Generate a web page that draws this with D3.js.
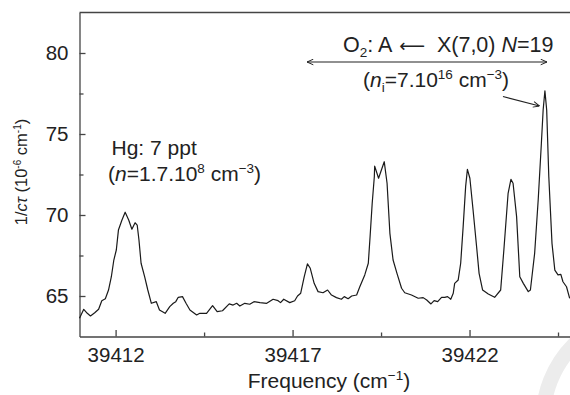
<!DOCTYPE html>
<html lang="en">
<head>
    <meta charset="UTF-8">
    <title>O2 and Hg cavity ring-down spectrum</title>
    <script src="https://d3js.org/d3.v7.min.js"></script>
    <style>
        body { margin: 0; background: white; }
        svg text { font-family: "Liberation Sans", Arial, Helvetica, sans-serif; fill: #222; }
        .axis path, .axis line { stroke: #444; stroke-width: 1.3px; }
    </style>
</head>
<body>
<svg width="570" height="395"></svg>
<script>
    // spectrum: frequency (cm-1) and 1/c tau (1e-6 cm-1)
    var freq = [39410.98, 39411.10, 39411.20, 39411.29, 39411.41, 39411.52, 39411.61, 39411.71, 39411.80, 39411.88,
        39411.95, 39412.02, 39412.08, 39412.18, 39412.27, 39412.37, 39412.46, 39412.55, 39412.61, 39412.66,
        39412.72, 39412.82, 39412.91, 39413.01, 39413.15, 39413.24, 39413.40, 39413.53, 39413.63, 39413.70,
        39413.77, 39413.89, 39413.99, 39414.10, 39414.29, 39414.38, 39414.57, 39414.74, 39414.87, 39415.02,
        39415.21, 39415.32, 39415.42, 39415.51, 39415.65, 39415.79, 39415.91, 39416.08, 39416.27, 39416.45,
        39416.59, 39416.66, 39416.75, 39416.92, 39417.06, 39417.14, 39417.23, 39417.33, 39417.42, 39417.50,
        39417.61, 39417.72, 39417.86, 39417.99, 39418.10, 39418.24, 39418.38, 39418.46, 39418.57, 39418.67,
        39418.81, 39418.90, 39419.04, 39419.14, 39419.19, 39419.25, 39419.31, 39419.32, 39419.43, 39419.59,
        39419.67, 39419.75, 39419.84, 39419.95, 39420.08, 39420.17, 39420.36, 39420.55, 39420.69, 39420.79,
        39420.91, 39421.00, 39421.10, 39421.21, 39421.30, 39421.38, 39421.47, 39421.54, 39421.58, 39421.68,
        39421.75, 39421.82, 39421.89, 39421.94, 39422.01, 39422.10, 39422.20, 39422.27, 39422.37, 39422.53,
        39422.71, 39422.88, 39422.97, 39423.09, 39423.17, 39423.23, 39423.33, 39423.42, 39423.52, 39423.66,
        39423.72, 39423.84, 39423.94, 39424.03, 39424.08, 39424.13, 39424.18, 39424.24, 39424.33, 39424.41,
        39424.50, 39424.58, 39424.64, 39424.74, 39424.83];
    var signal = [63.62, 64.18, 63.93, 63.77, 63.97, 64.18, 64.71, 64.83, 65.37, 66.19,
        67.22, 67.84, 69.07, 69.69, 70.17, 69.69, 69.12, 69.52, 69.38, 68.46,
        67.02, 66.19, 65.37, 64.55, 64.65, 64.14, 63.93, 64.34, 64.55, 64.65,
        64.92, 64.96, 64.55, 64.14, 63.83, 63.93, 63.93, 64.40, 64.03, 64.09,
        64.51, 64.44, 64.55, 64.38, 64.55, 64.49, 64.65, 64.59, 64.55, 64.80,
        64.71, 64.59, 64.80, 64.59, 64.71, 65.00, 65.17, 66.19, 66.98, 66.71,
        65.78, 65.27, 65.20, 65.37, 65.06, 64.90, 64.80, 64.96, 64.83, 65.00,
        65.06, 65.57, 66.30, 67.02, 68.66, 70.72, 72.36, 73.02, 72.27, 73.29,
        71.96, 68.87, 67.22, 66.40, 65.48, 65.20, 65.06, 64.86, 64.90, 64.75,
        64.51, 64.71, 64.65, 64.92, 64.92, 64.96, 64.80, 65.17, 65.78, 65.99,
        67.02, 69.28, 71.75, 72.82, 72.27, 70.31, 68.04, 66.40, 65.37, 65.12,
        64.92, 65.37, 67.84, 71.34, 72.20, 71.96, 69.90, 66.19, 65.78, 65.27,
        65.37, 67.64, 70.93, 74.43, 76.48, 77.67, 76.48, 72.36, 68.25, 66.60,
        66.30, 66.34, 65.88, 65.57, 64.86];

    var xTicks = [39412, 39417, 39422];
    var xMinor = [39414.5, 39419.5, 39424.5];
    var yTicks = [65, 70, 75, 80];
    var yMinor = [67.5, 72.5, 77.5];

    var svg = d3.select("svg");
    var plotLeft = 79.5, plotRight = 575, plotTop = 12.5, plotBottom = 336.5;

    var x = d3.scaleLinear().domain([39410.98, 39424.98]).range([plotLeft, plotRight]);
    var y = d3.scaleLinear().domain([62.5, 82.5]).range([plotBottom, plotTop]);

    // faint watermark ring in the corner
    svg.append("circle")
        .attr("cx", 650).attr("cy", 420).attr("r", 107)
        .attr("fill", "none").attr("stroke", "#ececec").attr("stroke-width", 15);

    // top frame
    svg.append("line")
        .attr("x1", plotLeft).attr("x2", plotRight).attr("y1", plotTop).attr("y2", plotTop)
        .attr("stroke", "#444").attr("stroke-width", 1.3);

    var xAxis = svg.append("g").attr("class", "axis")
        .attr("transform", "translate(0," + plotBottom + ")")
        .call(d3.axisBottom(x).tickValues(xTicks).tickSize(-6.5).tickSizeOuter(0).tickFormat(d3.format("d")));
    xAxis.selectAll("text").attr("y", 10.5).attr("font-size", "20.5px");
    svg.append("g").attr("class", "axis")
        .attr("transform", "translate(0," + plotBottom + ")")
        .call(d3.axisBottom(x).tickValues(xMinor).tickSize(-4).tickSizeOuter(0).tickFormat(""))
        .select(".domain").remove();

    var yAxis = svg.append("g").attr("class", "axis")
        .attr("transform", "translate(" + plotLeft + ",0)")
        .call(d3.axisLeft(y).tickValues(yTicks).tickSize(-6).tickSizeOuter(0));
    yAxis.selectAll("text").attr("x", -11).attr("font-size", "20.5px");
    svg.append("g").attr("class", "axis")
        .attr("transform", "translate(" + plotLeft + ",0)")
        .call(d3.axisLeft(y).tickValues(yMinor).tickSize(-4).tickSizeOuter(0).tickFormat(""))
        .select(".domain").remove();
    svg.selectAll(".axis text").attr("fill", "#222").attr("font-family", "Liberation Sans, Arial, sans-serif");

    var line = d3.line()
        .x(function(d) { return x(d[0]); })
        .y(function(d) { return y(d[1]); });

    svg.append("path")
        .datum(d3.zip(freq, signal))
        .attr("fill", "none")
        .attr("stroke", "#1a1a1a")
        .attr("stroke-width", 1.2)
        .attr("stroke-linejoin", "round")
        .attr("d", line);

    // axis titles
    var xt = svg.append("text").attr("x", 329).attr("y", 388)
        .attr("text-anchor", "middle").attr("font-size", "21px");
    xt.append("tspan").text("Frequency (cm");
    xt.append("tspan").attr("font-size", "13.5px").attr("dy", -8).text("\u22121");
    xt.append("tspan").attr("dy", 8).text(")");

    var yt = svg.append("text").attr("transform", "translate(27,172) rotate(-90)")
        .attr("text-anchor", "middle").attr("font-size", "16.5px");
    yt.append("tspan").text("1/");
    yt.append("tspan").attr("font-style", "italic").text("c\u03c4");
    yt.append("tspan").text(" (10");
    yt.append("tspan").attr("font-size", "10px").attr("dy", -6).text("-6");
    yt.append("tspan").attr("dy", 6).text(" cm");
    yt.append("tspan").attr("font-size", "10px").attr("dy", -6).text("-1");
    yt.append("tspan").attr("dy", 6).text(")");

    // Hg annotation
    svg.append("text").attr("x", 111.5).attr("y", 155).attr("font-size", "21px").text("Hg: 7 ppt");
    var hg = svg.append("text").attr("x", 108).attr("y", 181).attr("font-size", "21px");
    hg.append("tspan").text("(");
    hg.append("tspan").attr("font-style", "italic").text("n");
    hg.append("tspan").text("=1.7.10");
    hg.append("tspan").attr("font-size", "13.5px").attr("dy", -8).text("8");
    hg.append("tspan").attr("dy", 8).text(" cm");
    hg.append("tspan").attr("font-size", "13.5px").attr("dy", -8).text("\u22123");
    hg.append("tspan").attr("dy", 8).text(")");

    // O2 band annotation
    var o2 = svg.append("text").attr("x", 343).attr("y", 52).attr("font-size", "21.5px");
    o2.append("tspan").text("O");
    o2.append("tspan").attr("font-size", "13.5px").attr("dy", 5).text("2");
    o2.append("tspan").attr("dy", -5).text(": A ");
    o2.append("tspan").attr("font-family", "DejaVu Sans").attr("font-size", "18px").attr("dx", 2).text("\u27f5");
    o2.append("tspan").attr("dx", 6).text(" X(7,0) ");
    o2.append("tspan").attr("font-style", "italic").text("N");
    o2.append("tspan").text("=19");

    var defs = svg.append("defs");
    defs.append("marker").attr("id", "head")
        .attr("viewBox", "0 0 10 10").attr("refX", 10).attr("refY", 5)
        .attr("markerWidth", 7).attr("markerHeight", 7).attr("orient", "auto-start-reverse")
        .attr("markerUnits", "userSpaceOnUse")
        .append("path").attr("d", "M1,1 L10,5 L1,9").attr("fill", "none")
        .attr("stroke", "#222").attr("stroke-width", 1.4);

    svg.append("line")
        .attr("x1", 307).attr("y1", 62).attr("x2", 547).attr("y2", 62)
        .attr("stroke", "#222").attr("stroke-width", 1.2)
        .attr("marker-start", "url(#head)").attr("marker-end", "url(#head)");

    var ni = svg.append("text").attr("x", 363).attr("y", 87).attr("font-size", "21px");
    ni.append("tspan").text("(");
    ni.append("tspan").attr("font-style", "italic").text("n");
    ni.append("tspan").attr("font-size", "13.5px").attr("dy", 5).text("i");
    ni.append("tspan").attr("dy", -5).text("=7.10");
    ni.append("tspan").attr("font-size", "13.5px").attr("dy", -8).text("16");
    ni.append("tspan").attr("dy", 8).text(" cm");
    ni.append("tspan").attr("font-size", "13.5px").attr("dy", -8).text("\u22123");
    ni.append("tspan").attr("dy", 8).text(")");

    svg.append("line")
        .attr("x1", 503).attr("y1", 96.5).attr("x2", 539.5).attr("y2", 106)
        .attr("stroke", "#222").attr("stroke-width", 1.2)
        .attr("marker-end", "url(#head)");
</script>
</body>
</html>
